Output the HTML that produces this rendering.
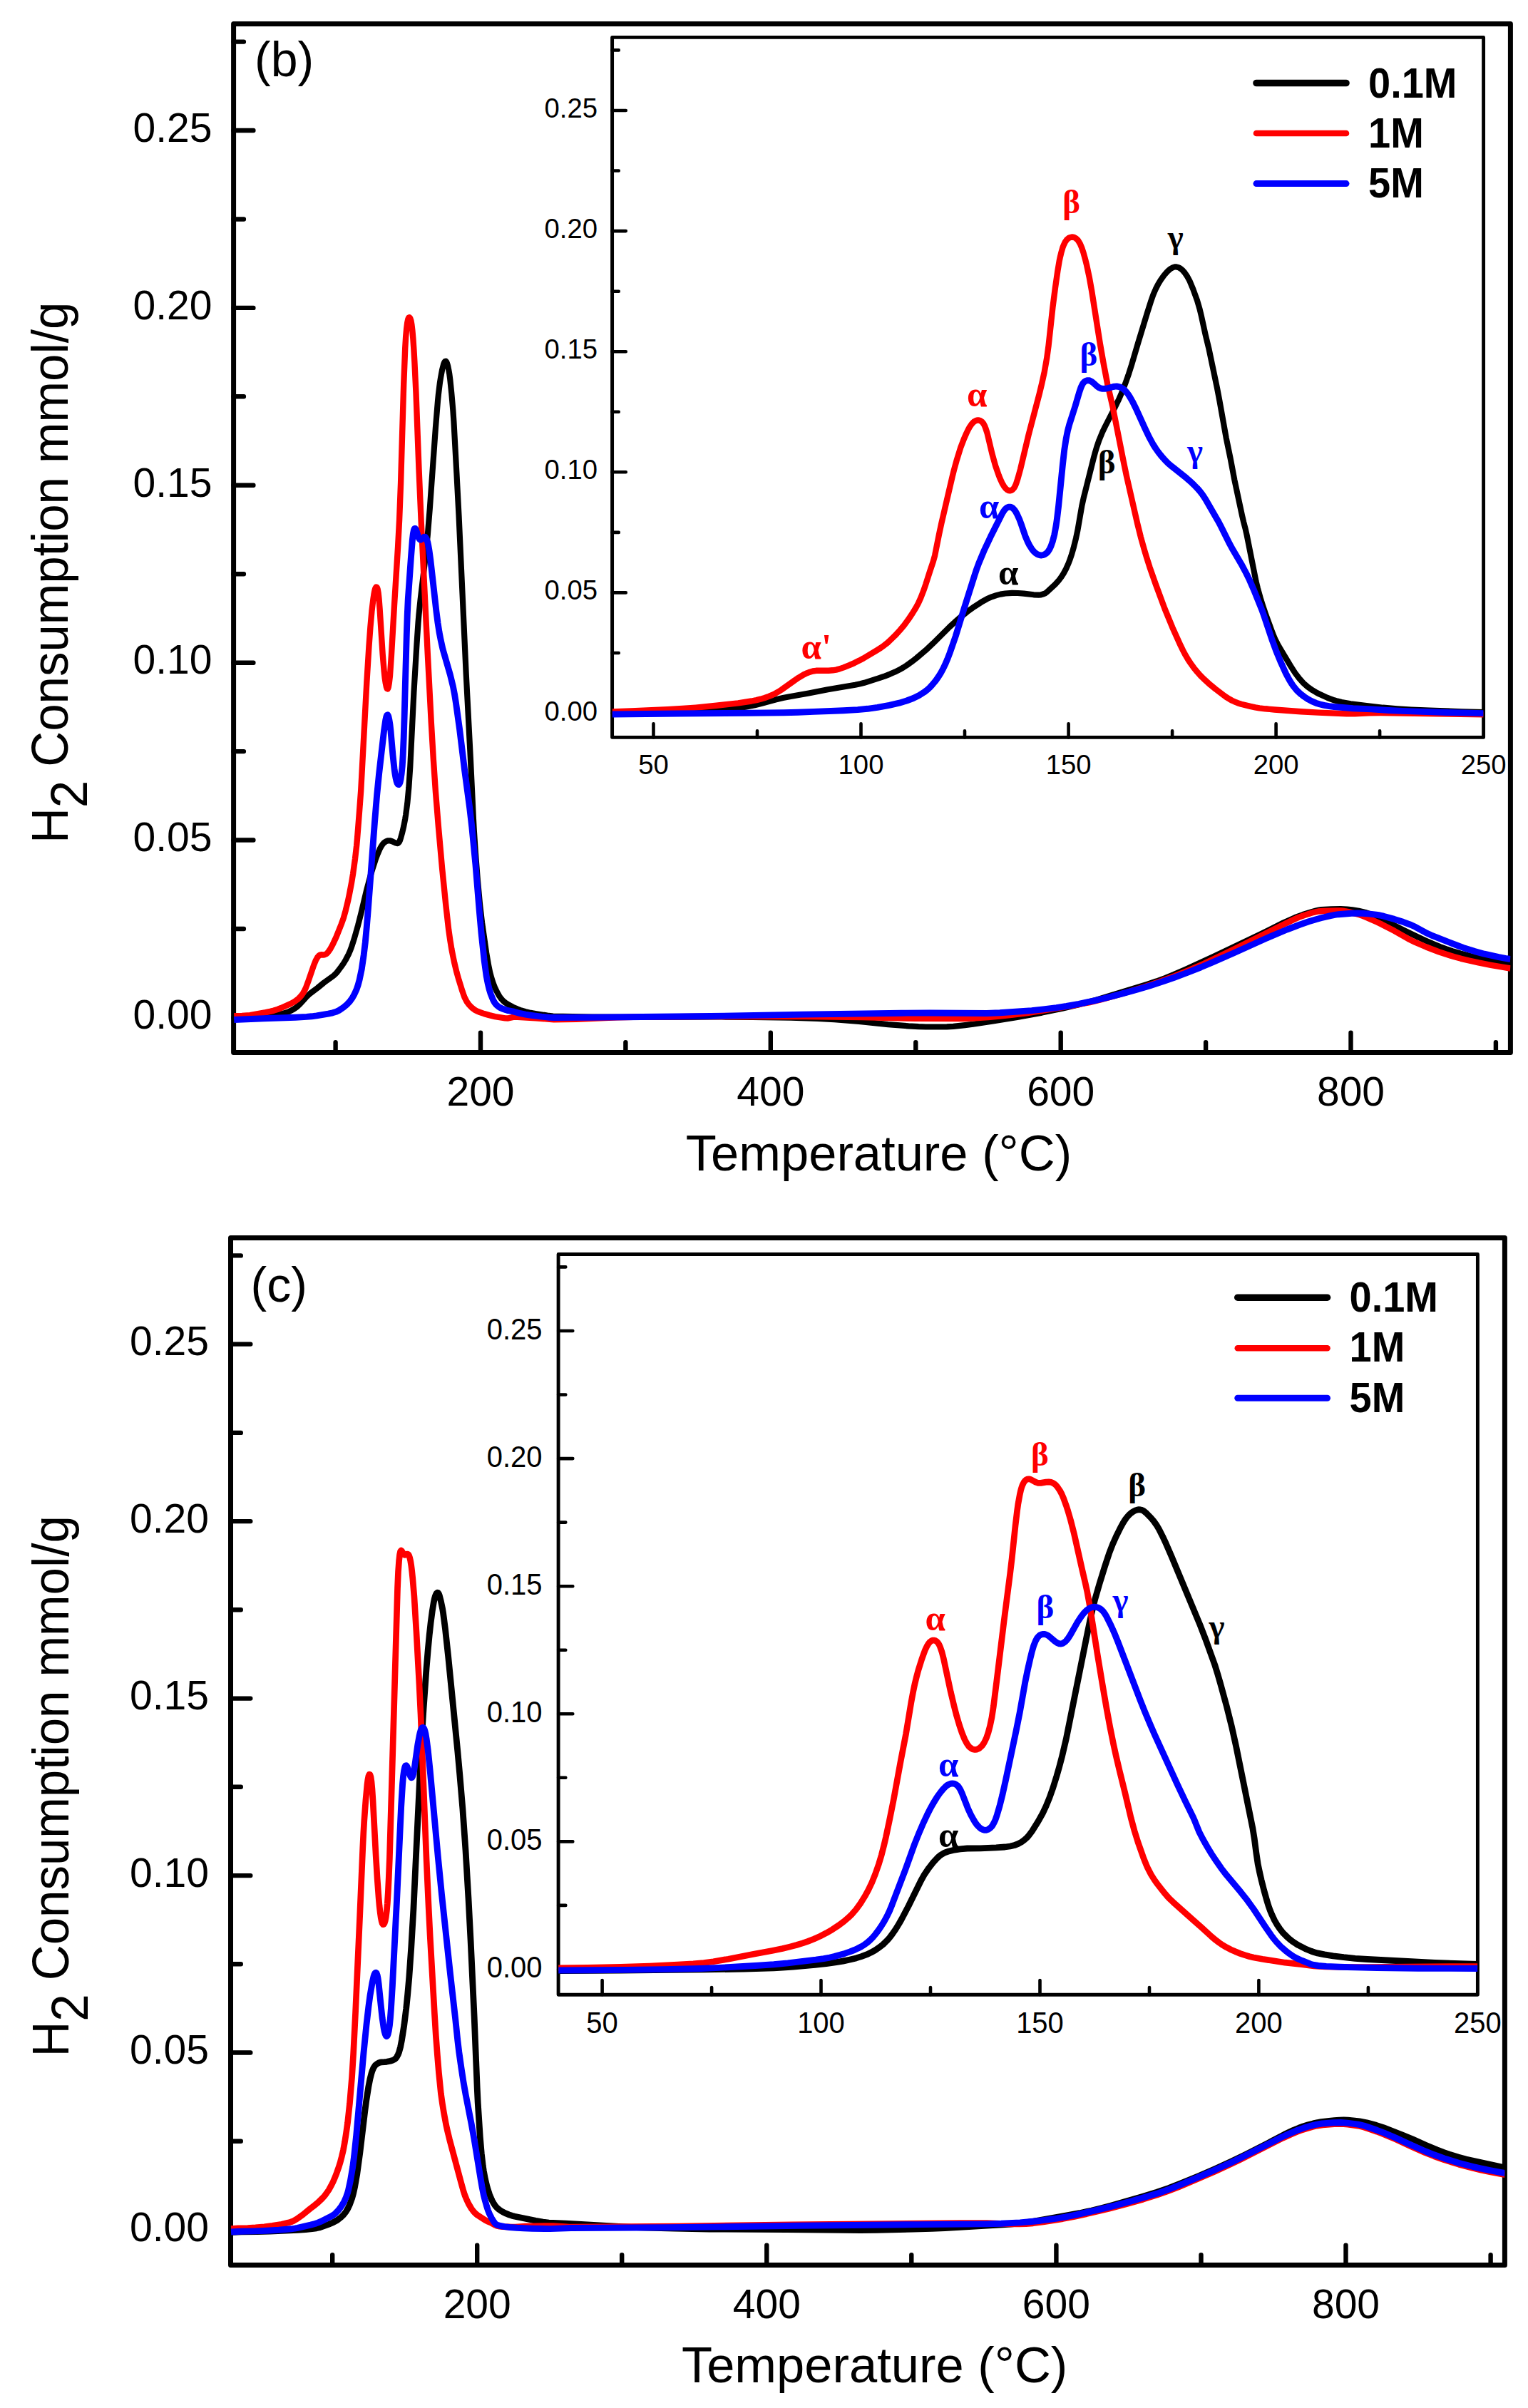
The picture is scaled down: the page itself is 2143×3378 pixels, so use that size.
<!DOCTYPE html>
<html><head><meta charset="utf-8"><title>H2-TPR profiles</title>
<style>html,body{margin:0;padding:0;background:#fff}svg{display:block}</style></head><body>
<svg width="2143" height="3378" viewBox="0 0 2143 3378" role="img" aria-label="H2-TPR profiles, panels (b) and (c)">
<rect width="2143" height="3378" fill="#fff"/>
<rect x="327.6" y="33.5" width="1790.8" height="1443.0" fill="#fff" stroke="#000" stroke-width="7.0" stroke-linejoin="round"/>
<path d="M674.0,1476.5V1448.7M1080.8,1476.5V1448.7M1487.7,1476.5V1448.7M1894.5,1476.5V1448.7M470.6,1476.5V1462.2M877.4,1476.5V1462.2M1284.3,1476.5V1462.2M1691.1,1476.5V1462.2M2097.9,1476.5V1462.2M327.6,1427.4H355.4M327.6,1178.5H355.4M327.6,929.7H355.4M327.6,680.8H355.4M327.6,431.9H355.4M327.6,183.0H355.4M327.6,1303.0H341.9M327.6,1054.1H341.9M327.6,805.2H341.9M327.6,556.3H341.9M327.6,307.5H341.9M327.6,58.6H341.9" fill="none" stroke="#000" stroke-width="6.4" stroke-linecap="round"/>
<clipPath id="clipbm"><rect x="327.6" y="33.5" width="1790.8" height="1443.0"/></clipPath>
<g clip-path="url(#clipbm)" fill="none" stroke-width="8.6" stroke-linejoin="round" stroke-linecap="butt">
<path d="M328.2,1428.0 L358.7,1426.6 L379.0,1424.7 L387.2,1423.6 L395.3,1422.1 L401.4,1420.5 L405.5,1419.0 L411.6,1415.9 L416.7,1412.4 L420.7,1408.6 L428.9,1399.4 L435.0,1393.6 L445.2,1386.0 L454.3,1378.5 L467.5,1369.0 L469.6,1367.2 L471.6,1365.2 L474.6,1361.4 L478.7,1355.9 L481.8,1351.5 L484.8,1346.5 L488.9,1338.7 L490.9,1334.0 L493.0,1328.6 L497.0,1316.0 L502.1,1298.1 L506.2,1282.0 L514.3,1248.0 L519.4,1229.0 L522.5,1218.7 L526.5,1206.4 L529.6,1198.1 L532.6,1191.1 L534.7,1187.3 L536.7,1184.3 L538.7,1182.1 L540.8,1180.6 L541.8,1180.1 L543.8,1179.4 L546.9,1179.3 L549.9,1180.2 L555.0,1182.6 L557.0,1183.1 L558.1,1182.9 L559.1,1182.2 L560.1,1180.8 L561.1,1178.5 L562.1,1175.4 L564.2,1167.9 L566.2,1159.3 L568.2,1148.9 L569.2,1142.6 L571.3,1126.8 L573.3,1105.2 L575.3,1075.5 L580.4,971.4 L584.5,903.2 L586.5,873.9 L587.5,861.8 L589.6,841.4 L596.7,781.4 L599.8,750.6 L602.8,713.5 L610.9,600.4 L614.0,562.5 L615.0,552.5 L617.0,536.3 L618.1,529.7 L620.1,518.8 L622.1,511.0 L623.1,508.4 L624.2,506.9 L625.2,506.6 L626.2,507.7 L627.2,510.1 L628.2,513.7 L629.2,518.5 L630.3,524.8 L631.3,532.5 L633.3,551.9 L635.4,576.3 L636.4,591.0 L640.4,663.7 L643.5,722.9 L653.7,945.2 L659.8,1062.4 L663.8,1146.2 L664.8,1164.9 L666.9,1196.3 L669.9,1234.3 L673.0,1268.1 L676.0,1293.8 L682.1,1336.4 L685.2,1354.4 L687.2,1364.0 L689.3,1371.8 L691.3,1378.2 L694.3,1385.9 L697.4,1392.2 L700.4,1397.5 L702.5,1400.5 L705.5,1403.9 L708.6,1406.5 L713.7,1409.7 L719.8,1412.9 L725.9,1415.6 L731.0,1417.5 L737.1,1419.3 L744.2,1420.9 L752.3,1422.3 L767.6,1424.6 L775.7,1425.5 L830.6,1426.5 L874.4,1426.9 L911.0,1427.0 L1011.7,1426.5 L1055.4,1426.9 L1109.3,1427.7 L1147.0,1428.9 L1170.3,1430.2 L1204.9,1432.9 L1245.6,1437.1 L1274.1,1439.4 L1288.3,1440.2 L1298.5,1440.5 L1328.0,1440.4 L1337.1,1439.8 L1353.4,1438.1 L1364.6,1436.7 L1391.1,1432.7 L1426.7,1426.9 L1461.2,1420.6 L1489.7,1414.7 L1514.1,1408.9 L1537.5,1402.7 L1553.8,1397.8 L1608.7,1380.9 L1621.9,1376.5 L1634.1,1372.1 L1646.3,1367.1 L1662.6,1359.9 L1702.3,1341.7 L1768.4,1310.2 L1780.6,1304.2 L1799.9,1294.4 L1816.2,1287.2 L1827.4,1283.0 L1839.6,1279.1 L1845.7,1277.4 L1849.8,1276.5 L1852.8,1276.1 L1867.1,1275.3 L1880.3,1275.0 L1889.4,1275.6 L1896.6,1276.4 L1905.7,1277.8 L1909.8,1278.7 L1914.9,1280.0 L1924.0,1283.1 L1933.2,1286.7 L1938.3,1289.2 L1951.5,1296.2 L1968.8,1305.0 L1988.1,1314.3 L1999.3,1319.4 L2010.5,1324.3 L2019.6,1328.0 L2027.8,1331.1 L2036.9,1334.1 L2048.1,1337.4 L2063.4,1341.5 L2073.5,1343.9 L2084.7,1346.1 L2097.9,1348.3 L2109.1,1350.0 L2118.3,1351.0" stroke="#000000" stroke-width="8.2"/>
<path d="M328.2,1425.3 L339.4,1425.0 L350.6,1424.1 L372.9,1420.2 L379.0,1418.9 L384.1,1417.6 L389.2,1416.0 L394.3,1414.0 L407.5,1408.1 L411.6,1405.9 L414.6,1403.9 L417.7,1401.7 L419.7,1399.8 L422.8,1396.4 L424.8,1393.6 L426.8,1390.2 L428.9,1385.9 L431.9,1377.8 L440.1,1354.0 L443.1,1346.7 L445.2,1343.0 L447.2,1340.6 L448.2,1339.9 L449.2,1339.5 L450.2,1339.3 L453.3,1339.5 L455.3,1339.3 L457.4,1338.3 L458.4,1337.6 L459.4,1336.6 L461.4,1333.9 L463.5,1330.8 L466.5,1325.3 L471.6,1314.4 L478.7,1296.5 L481.8,1287.8 L484.8,1277.1 L487.9,1264.3 L489.9,1254.8 L493.0,1238.6 L495.0,1226.3 L498.0,1204.8 L500.1,1186.5 L501.1,1175.5 L504.1,1137.3 L506.2,1109.0 L514.3,957.9 L517.4,907.5 L519.4,880.1 L521.4,857.6 L523.5,840.0 L524.5,833.3 L525.5,828.3 L526.5,825.0 L527.5,823.5 L528.6,823.8 L529.6,826.3 L530.6,831.7 L531.6,841.0 L532.6,854.3 L536.7,918.2 L538.7,941.8 L539.7,951.1 L540.8,958.3 L541.8,963.3 L542.8,966.1 L543.8,966.4 L544.8,963.9 L545.8,958.1 L546.9,948.5 L548.9,919.7 L553.0,849.0 L558.1,767.0 L560.1,729.1 L562.1,677.2 L566.2,539.2 L568.2,489.0 L569.2,471.8 L570.3,460.0 L571.3,452.3 L572.3,447.8 L573.3,445.6 L574.3,445.2 L575.3,446.5 L576.4,449.8 L577.4,455.5 L578.4,464.1 L579.4,475.7 L580.4,490.5 L581.4,508.1 L583.5,551.6 L587.5,658.0 L590.6,729.9 L599.8,917.3 L604.8,1013.7 L607.9,1065.9 L610.9,1110.3 L615.0,1160.9 L620.1,1218.2 L625.2,1268.7 L629.2,1304.2 L631.3,1318.8 L633.3,1331.1 L635.4,1341.8 L637.4,1351.3 L640.4,1363.7 L643.5,1374.6 L648.6,1390.9 L651.6,1399.3 L654.7,1405.2 L657.7,1409.4 L661.8,1413.6 L665.9,1416.8 L668.9,1418.4 L673.0,1420.0 L679.1,1422.1 L686.2,1424.1 L694.3,1426.1 L708.6,1428.4 L712.6,1428.5 L719.8,1426.9 L721.8,1426.7 L725.9,1426.8 L751.3,1428.3 L773.7,1430.1 L776.7,1430.2 L792.0,1430.1 L808.3,1429.7 L865.2,1427.4 L888.6,1426.7 L982.2,1426.0 L1129.7,1426.1 L1208.0,1427.1 L1284.3,1428.9 L1351.4,1429.0 L1363.6,1428.5 L1386.0,1427.0 L1402.2,1425.5 L1420.6,1423.5 L1440.9,1421.0 L1464.3,1417.4 L1505.0,1410.7 L1528.4,1406.1 L1543.6,1402.5 L1560.9,1397.8 L1586.3,1390.3 L1607.7,1383.4 L1629.1,1376.0 L1647.4,1369.1 L1667.7,1360.8 L1688.0,1352.0 L1705.3,1343.9 L1732.8,1330.6 L1797.9,1297.9 L1815.2,1289.6 L1821.3,1286.9 L1828.4,1284.2 L1841.6,1280.1 L1848.8,1278.5 L1854.9,1278.0 L1874.2,1277.5 L1880.3,1277.5 L1883.3,1277.7 L1887.4,1278.3 L1892.5,1279.4 L1906.7,1283.3 L1911.8,1285.1 L1917.9,1287.6 L1931.1,1293.5 L1938.3,1296.9 L1955.5,1305.8 L1974.9,1316.9 L1985.0,1321.9 L2000.3,1328.5 L2018.6,1335.5 L2027.8,1338.6 L2038.9,1342.0 L2049.1,1344.8 L2060.3,1347.5 L2073.5,1350.4 L2090.8,1353.8 L2107.1,1356.7 L2118.3,1358.5" stroke="#ff0000" stroke-width="8.4"/>
<path d="M328.2,1430.5 L369.9,1428.7 L414.6,1427.2 L429.9,1426.4 L437.0,1425.8 L444.1,1424.9 L460.4,1422.1 L466.5,1420.8 L471.6,1419.3 L475.7,1417.2 L481.8,1413.1 L486.9,1408.8 L490.9,1404.4 L494.0,1400.1 L497.0,1394.8 L500.1,1387.9 L502.1,1382.0 L504.1,1374.6 L507.2,1359.8 L510.2,1339.6 L512.3,1321.9 L514.3,1300.3 L516.3,1275.9 L525.5,1153.2 L528.6,1115.8 L531.6,1085.5 L534.7,1058.4 L538.7,1024.1 L540.8,1009.9 L541.8,1005.4 L542.8,1003.0 L543.8,1002.8 L544.8,1004.9 L545.8,1009.3 L546.9,1015.9 L547.9,1024.7 L550.9,1058.8 L553.0,1078.3 L554.0,1085.6 L555.0,1091.3 L556.0,1095.6 L557.0,1098.6 L558.1,1100.2 L559.1,1100.6 L560.1,1099.7 L561.1,1097.3 L562.1,1092.8 L563.1,1085.7 L564.2,1074.7 L565.2,1058.3 L566.2,1034.6 L567.2,1003.0 L570.3,890.0 L571.3,861.5 L572.3,840.3 L576.4,782.3 L578.4,757.1 L579.4,748.6 L580.4,743.6 L581.4,741.4 L582.5,741.5 L583.5,743.1 L586.5,752.7 L587.5,755.2 L588.6,756.7 L589.6,757.2 L590.6,756.9 L594.7,753.3 L595.7,753.1 L596.7,753.6 L597.7,754.9 L598.7,757.3 L599.8,760.8 L600.8,765.4 L601.8,771.2 L603.8,785.7 L612.0,858.2 L614.0,873.6 L616.0,886.6 L618.1,897.5 L621.1,911.1 L631.3,946.3 L635.4,963.0 L637.4,973.3 L639.4,985.8 L644.5,1022.4 L651.6,1080.4 L658.7,1133.4 L661.8,1160.0 L666.9,1212.4 L672.0,1274.6 L675.0,1308.7 L679.1,1346.8 L682.1,1368.9 L684.2,1379.6 L686.2,1387.9 L688.2,1394.4 L691.3,1402.1 L693.3,1405.8 L694.3,1407.4 L696.4,1409.9 L699.4,1412.4 L701.5,1413.6 L704.5,1415.0 L709.6,1416.8 L712.6,1417.7 L720.8,1419.2 L729.9,1421.7 L737.1,1423.1 L745.2,1424.3 L759.4,1426.1 L770.6,1427.2 L776.7,1427.5 L827.6,1427.2 L996.4,1425.5 L1126.6,1423.1 L1263.9,1421.2 L1304.6,1421.0 L1383.9,1421.5 L1402.2,1420.8 L1431.7,1418.8 L1447.0,1417.6 L1463.3,1415.9 L1481.6,1413.7 L1495.8,1411.5 L1513.1,1408.3 L1535.5,1403.6 L1552.8,1399.5 L1573.1,1394.1 L1594.5,1388.2 L1613.8,1382.4 L1631.1,1376.8 L1646.3,1371.5 L1664.7,1364.6 L1684.0,1357.0 L1701.3,1349.7 L1730.8,1336.7 L1775.5,1316.5 L1805.0,1304.0 L1823.3,1297.0 L1835.5,1292.8 L1845.7,1289.7 L1852.8,1287.8 L1866.0,1284.6 L1872.1,1283.4 L1877.2,1282.7 L1895.5,1281.2 L1903.7,1281.0 L1910.8,1281.2 L1918.9,1281.9 L1930.1,1283.2 L1935.2,1284.0 L1940.3,1285.2 L1955.5,1289.4 L1967.8,1293.3 L1978.9,1297.5 L1985.0,1300.3 L1999.3,1308.2 L2006.4,1311.6 L2016.6,1315.7 L2043.0,1326.0 L2052.2,1329.4 L2068.4,1334.6 L2081.7,1338.2 L2102.0,1342.7 L2111.2,1344.4 L2118.3,1345.5" stroke="#0000ff" stroke-width="8.9"/>
</g>
<text x="297.5" y="1443.1" font-size="57" text-anchor="end" font-weight="normal" fill="#000" font-family='"Liberation Sans", Arial, Helvetica, sans-serif' >0.00</text>
<text x="297.5" y="1194.2" font-size="57" text-anchor="end" font-weight="normal" fill="#000" font-family='"Liberation Sans", Arial, Helvetica, sans-serif' >0.05</text>
<text x="297.5" y="945.4" font-size="57" text-anchor="end" font-weight="normal" fill="#000" font-family='"Liberation Sans", Arial, Helvetica, sans-serif' >0.10</text>
<text x="297.5" y="696.5" font-size="57" text-anchor="end" font-weight="normal" fill="#000" font-family='"Liberation Sans", Arial, Helvetica, sans-serif' >0.15</text>
<text x="297.5" y="447.6" font-size="57" text-anchor="end" font-weight="normal" fill="#000" font-family='"Liberation Sans", Arial, Helvetica, sans-serif' >0.20</text>
<text x="297.5" y="198.7" font-size="57" text-anchor="end" font-weight="normal" fill="#000" font-family='"Liberation Sans", Arial, Helvetica, sans-serif' >0.25</text>
<text x="674.0" y="1551.2" font-size="57" text-anchor="middle" font-weight="normal" fill="#000" font-family='"Liberation Sans", Arial, Helvetica, sans-serif' >200</text>
<text x="1080.8" y="1551.2" font-size="57" text-anchor="middle" font-weight="normal" fill="#000" font-family='"Liberation Sans", Arial, Helvetica, sans-serif' >400</text>
<text x="1487.7" y="1551.2" font-size="57" text-anchor="middle" font-weight="normal" fill="#000" font-family='"Liberation Sans", Arial, Helvetica, sans-serif' >600</text>
<text x="1894.5" y="1551.2" font-size="57" text-anchor="middle" font-weight="normal" fill="#000" font-family='"Liberation Sans", Arial, Helvetica, sans-serif' >800</text>
<text x="1232.5" y="1641.8" font-size="70.5" text-anchor="middle" font-weight="normal" fill="#000" font-family='"Liberation Sans", Arial, Helvetica, sans-serif' >Temperature (°C)</text>
<text transform="translate(95.0,803.4) rotate(-90) scale(0.952,1)" font-size="72.5" text-anchor="middle" font-family='"Liberation Sans", Arial, Helvetica, sans-serif' fill="#000">H<tspan dy="27">2</tspan><tspan dy="-27"> Consumption mmol/g</tspan></text>
<text x="357.0" y="107.4" font-size="68" text-anchor="start" font-weight="normal" fill="#000" font-family='"Liberation Sans", Arial, Helvetica, sans-serif' >(b)</text>
<rect x="858.6" y="52.4" width="1222.0" height="982.0" fill="#fff" stroke="#000" stroke-width="4.9" stroke-linejoin="round"/>
<path d="M916.5,1034.4V1015.2M1207.5,1034.4V1015.2M1498.6,1034.4V1015.2M1789.6,1034.4V1015.2M1062.0,1034.4V1025.2M1353.0,1034.4V1025.2M1644.1,1034.4V1025.2M1935.1,1034.4V1025.2M858.6,1000.5H877.8M858.6,831.4H877.8M858.6,662.3H877.8M858.6,493.2H877.8M858.6,324.1H877.8M858.6,155.0H877.8M858.6,916.0H867.8M858.6,746.9H867.8M858.6,577.8H867.8M858.6,408.7H867.8M858.6,239.5H867.8M858.6,70.4H867.8" fill="none" stroke="#000" stroke-width="4.6" stroke-linecap="round"/>
<clipPath id="clipbi"><rect x="858.6" y="52.4" width="1222.0" height="982.0"/></clipPath>
<g clip-path="url(#clipbi)" fill="none" stroke-width="8.6" stroke-linejoin="round" stroke-linecap="butt">
<path d="M858.3,1000.2 L909.5,999.5 L966.6,998.0 L987.5,997.1 L1006.1,996.1 L1017.8,995.2 L1029.4,993.9 L1045.7,991.7 L1058.5,989.3 L1065.5,987.6 L1087.6,981.6 L1098.1,979.1 L1107.4,977.2 L1134.2,972.5 L1161.0,967.2 L1199.4,960.7 L1206.4,959.3 L1212.2,957.8 L1233.1,951.2 L1241.3,948.3 L1248.3,945.6 L1255.3,942.6 L1261.1,939.7 L1266.9,936.4 L1271.6,933.4 L1278.5,928.4 L1285.5,923.0 L1298.3,912.2 L1308.8,902.3 L1332.1,879.1 L1339.1,872.7 L1347.2,865.7 L1356.5,858.2 L1367.0,850.7 L1376.3,844.7 L1384.5,840.1 L1391.5,837.1 L1397.3,835.1 L1403.1,833.6 L1410.1,832.5 L1419.4,831.9 L1427.5,832.0 L1435.7,832.6 L1449.7,834.3 L1456.6,834.6 L1460.1,834.3 L1463.6,833.3 L1466.0,832.2 L1468.3,830.5 L1479.9,819.8 L1484.6,814.6 L1488.1,809.9 L1491.6,804.5 L1495.1,798.0 L1498.6,790.1 L1500.9,784.0 L1503.2,777.1 L1505.5,769.2 L1509.0,755.2 L1511.4,743.9 L1517.2,710.2 L1519.5,699.6 L1533.5,643.8 L1535.8,635.1 L1538.1,627.4 L1541.6,617.2 L1546.3,605.8 L1549.8,598.5 L1563.7,571.4 L1568.4,561.8 L1573.1,551.2 L1578.9,536.2 L1582.4,526.4 L1587.0,512.0 L1596.3,480.5 L1609.1,438.5 L1613.8,423.7 L1617.3,413.7 L1620.8,405.5 L1624.3,398.7 L1627.8,392.9 L1632.4,386.4 L1637.1,381.0 L1639.4,378.9 L1641.7,377.0 L1645.2,375.1 L1647.6,374.4 L1648.7,374.3 L1649.9,374.4 L1652.2,374.9 L1654.5,376.0 L1656.9,377.6 L1659.2,379.8 L1661.5,382.5 L1665.0,387.6 L1668.5,394.2 L1673.2,405.3 L1679.0,421.4 L1682.5,433.4 L1684.8,442.9 L1690.6,469.3 L1695.3,488.7 L1706.9,543.9 L1710.4,562.2 L1719.7,614.3 L1725.6,642.9 L1731.4,673.5 L1741.9,722.7 L1744.2,732.5 L1746.5,741.2 L1748.8,751.4 L1761.6,815.7 L1764.0,825.5 L1767.5,838.2 L1771.0,849.4 L1774.4,859.6 L1783.8,885.4 L1786.1,891.4 L1788.4,896.8 L1791.9,903.7 L1796.6,911.8 L1809.4,933.2 L1816.4,944.1 L1822.2,951.8 L1828.0,958.2 L1833.8,963.4 L1840.8,968.3 L1845.5,971.1 L1850.1,973.5 L1861.8,978.9 L1871.1,982.3 L1875.7,983.6 L1881.5,985.0 L1894.3,987.2 L1916.5,990.1 L1939.7,992.7 L1959.5,994.3 L1979.3,995.5 L2004.9,996.7 L2050.3,998.3 L2080.6,999.2" stroke="#000000" stroke-width="8.2"/>
<path d="M858.3,998.4 L890.9,997.2 L936.3,995.2 L957.2,994.0 L975.9,992.6 L1005.0,989.8 L1035.2,986.4 L1053.9,983.5 L1060.9,982.1 L1066.7,980.7 L1072.5,979.0 L1078.3,976.9 L1083.0,975.0 L1087.6,972.7 L1091.1,970.7 L1095.8,967.7 L1114.4,954.5 L1120.2,950.6 L1127.2,946.4 L1130.7,944.7 L1134.2,943.3 L1140.0,941.5 L1144.7,940.8 L1148.2,940.6 L1162.1,940.8 L1168.0,940.3 L1172.6,939.6 L1177.3,938.4 L1183.1,936.4 L1191.2,933.2 L1198.2,930.1 L1205.2,926.6 L1211.0,923.5 L1229.6,912.3 L1235.5,908.6 L1240.1,905.3 L1244.8,901.6 L1249.4,897.3 L1255.3,891.6 L1262.2,884.0 L1268.1,877.0 L1273.9,869.1 L1279.7,860.4 L1284.4,852.7 L1287.9,846.3 L1291.3,838.7 L1294.8,829.8 L1298.3,819.8 L1304.2,801.4 L1308.8,787.6 L1311.1,779.3 L1317.0,749.7 L1320.4,733.8 L1335.6,668.8 L1337.9,659.5 L1341.4,646.8 L1347.2,628.1 L1351.9,615.7 L1355.4,607.8 L1357.7,603.0 L1360.0,598.8 L1362.4,595.4 L1363.5,594.0 L1365.8,591.7 L1368.2,590.3 L1370.5,589.5 L1372.8,589.5 L1375.2,590.3 L1377.5,592.0 L1378.7,593.4 L1379.8,595.1 L1381.0,597.4 L1382.1,600.2 L1384.5,607.4 L1391.5,636.9 L1396.1,653.3 L1400.8,666.9 L1403.1,672.6 L1405.4,677.6 L1407.8,681.7 L1410.1,684.9 L1412.4,687.0 L1414.7,688.1 L1415.9,688.3 L1417.1,688.2 L1418.2,687.9 L1419.4,687.3 L1420.6,686.4 L1421.7,685.1 L1422.9,683.3 L1424.1,681.0 L1425.2,678.2 L1427.5,671.1 L1431.0,658.5 L1442.7,609.6 L1457.8,552.1 L1461.3,537.6 L1464.8,521.6 L1468.3,501.7 L1470.6,484.6 L1476.4,431.2 L1479.9,404.1 L1483.4,379.9 L1485.7,366.1 L1486.9,360.4 L1488.1,355.4 L1490.4,347.3 L1491.6,344.2 L1493.9,339.4 L1496.2,336.2 L1498.6,334.1 L1500.9,333.0 L1503.2,332.5 L1505.5,332.7 L1506.7,333.1 L1509.0,334.4 L1511.4,336.6 L1512.5,338.1 L1514.9,342.2 L1517.2,347.6 L1519.5,354.5 L1521.8,362.8 L1524.2,372.3 L1527.7,388.8 L1531.1,407.8 L1542.8,482.0 L1547.4,508.3 L1553.3,539.1 L1560.3,569.5 L1575.4,645.7 L1580.0,668.0 L1595.2,734.5 L1599.8,753.1 L1604.5,769.9 L1608.0,781.6 L1612.6,796.1 L1620.8,819.5 L1633.6,854.1 L1644.1,879.7 L1655.7,905.4 L1659.2,912.6 L1662.7,919.2 L1666.2,925.1 L1669.7,930.4 L1674.3,936.8 L1679.0,942.5 L1683.6,947.7 L1688.3,952.4 L1697.6,960.8 L1704.6,966.5 L1715.1,974.5 L1719.7,977.9 L1724.4,980.8 L1727.9,982.7 L1731.4,984.3 L1736.0,986.2 L1740.7,987.7 L1753.5,990.9 L1760.5,992.3 L1766.3,993.3 L1774.4,994.3 L1787.3,995.5 L1824.5,998.3 L1848.9,999.6 L1888.5,1001.2 L1900.2,1001.3 L1920.0,1000.2 L1936.3,1000.1 L2014.3,1001.2 L2080.6,1002.4" stroke="#ff0000" stroke-width="8.4"/>
<path d="M858.3,1002.0 L953.8,1001.0 L1051.5,1000.3 L1099.3,999.7 L1119.1,999.2 L1141.2,998.4 L1183.1,996.7 L1202.9,995.6 L1216.8,994.3 L1230.8,992.3 L1247.1,989.3 L1261.1,986.2 L1271.6,983.0 L1280.9,979.5 L1289.0,975.5 L1296.0,971.1 L1300.7,967.5 L1304.2,964.3 L1307.6,960.5 L1312.3,954.8 L1315.8,949.9 L1319.3,944.3 L1322.8,937.9 L1326.3,930.5 L1328.6,925.1 L1332.1,916.0 L1340.2,892.6 L1351.9,854.4 L1367.0,806.7 L1369.3,799.6 L1372.8,790.0 L1379.8,773.2 L1389.1,753.3 L1404.3,722.9 L1406.6,718.7 L1408.9,715.3 L1410.1,713.9 L1412.4,712.1 L1414.7,711.2 L1417.1,711.2 L1419.4,712.2 L1420.6,713.0 L1422.9,715.5 L1424.1,717.1 L1426.4,721.2 L1429.9,729.0 L1432.2,735.2 L1438.0,752.2 L1441.5,760.4 L1443.8,764.9 L1447.3,770.5 L1449.7,773.4 L1452.0,775.6 L1454.3,777.2 L1456.6,778.3 L1459.0,778.9 L1460.1,779.0 L1462.5,778.7 L1464.8,777.9 L1467.1,776.5 L1469.5,774.2 L1471.8,770.8 L1474.1,765.9 L1476.4,759.2 L1478.8,750.0 L1481.1,737.3 L1482.3,729.2 L1484.6,709.9 L1490.4,652.0 L1492.7,631.5 L1495.1,615.9 L1497.4,604.4 L1499.7,595.7 L1507.9,570.0 L1513.7,550.3 L1516.0,543.5 L1518.3,538.6 L1519.5,537.0 L1520.7,535.7 L1523.0,534.2 L1525.3,533.6 L1527.7,533.8 L1528.8,534.2 L1531.1,535.4 L1533.5,537.2 L1539.3,542.5 L1541.6,543.9 L1544.0,544.9 L1546.3,545.4 L1549.8,545.3 L1553.3,544.7 L1561.4,542.5 L1563.7,542.1 L1566.1,542.0 L1569.6,542.6 L1571.9,543.5 L1575.4,545.6 L1577.7,547.6 L1580.0,550.2 L1582.4,553.4 L1584.7,557.0 L1588.2,563.1 L1594.0,574.8 L1605.7,600.6 L1611.5,612.8 L1617.3,623.5 L1620.8,629.0 L1624.3,634.0 L1627.8,638.5 L1631.3,642.6 L1634.8,646.4 L1638.2,649.8 L1644.1,654.8 L1663.9,670.6 L1669.7,675.6 L1674.3,680.0 L1679.0,684.8 L1682.5,688.8 L1686.0,693.3 L1688.3,696.6 L1691.8,702.2 L1708.1,730.4 L1711.6,737.0 L1724.4,762.7 L1729.0,771.1 L1741.9,793.1 L1747.7,804.0 L1752.3,813.4 L1758.1,826.7 L1769.8,855.6 L1773.3,865.5 L1783.8,896.9 L1789.6,912.7 L1796.6,929.7 L1803.5,944.9 L1808.2,953.6 L1811.7,959.3 L1814.0,962.7 L1818.7,968.3 L1821.0,970.7 L1824.5,973.8 L1829.2,977.4 L1835.0,981.2 L1839.6,983.7 L1845.5,986.2 L1851.3,988.0 L1857.1,989.4 L1864.1,990.6 L1871.1,991.5 L1897.8,993.8 L1923.5,994.9 L1947.9,996.5 L1966.5,997.4 L2029.4,999.5 L2080.6,1000.6" stroke="#0000ff" stroke-width="8.9"/>
</g>
<text x="838.0" y="1010.5" font-size="38.3" text-anchor="end" font-weight="normal" fill="#000" font-family='"Liberation Sans", Arial, Helvetica, sans-serif' >0.00</text>
<text x="838.0" y="841.4" font-size="38.3" text-anchor="end" font-weight="normal" fill="#000" font-family='"Liberation Sans", Arial, Helvetica, sans-serif' >0.05</text>
<text x="838.0" y="672.3" font-size="38.3" text-anchor="end" font-weight="normal" fill="#000" font-family='"Liberation Sans", Arial, Helvetica, sans-serif' >0.10</text>
<text x="838.0" y="503.2" font-size="38.3" text-anchor="end" font-weight="normal" fill="#000" font-family='"Liberation Sans", Arial, Helvetica, sans-serif' >0.15</text>
<text x="838.0" y="334.1" font-size="38.3" text-anchor="end" font-weight="normal" fill="#000" font-family='"Liberation Sans", Arial, Helvetica, sans-serif' >0.20</text>
<text x="838.0" y="165.0" font-size="38.3" text-anchor="end" font-weight="normal" fill="#000" font-family='"Liberation Sans", Arial, Helvetica, sans-serif' >0.25</text>
<text x="916.5" y="1085.6" font-size="38.3" text-anchor="middle" font-weight="normal" fill="#000" font-family='"Liberation Sans", Arial, Helvetica, sans-serif' >50</text>
<text x="1207.5" y="1085.6" font-size="38.3" text-anchor="middle" font-weight="normal" fill="#000" font-family='"Liberation Sans", Arial, Helvetica, sans-serif' >100</text>
<text x="1498.6" y="1085.6" font-size="38.3" text-anchor="middle" font-weight="normal" fill="#000" font-family='"Liberation Sans", Arial, Helvetica, sans-serif' >150</text>
<text x="1789.6" y="1085.6" font-size="38.3" text-anchor="middle" font-weight="normal" fill="#000" font-family='"Liberation Sans", Arial, Helvetica, sans-serif' >200</text>
<text x="2080.6" y="1085.6" font-size="38.3" text-anchor="middle" font-weight="normal" fill="#000" font-family='"Liberation Sans", Arial, Helvetica, sans-serif' >250</text>
<path d="M1762.0,116.5H1888.0" stroke="#000000" stroke-width="9.6" stroke-linecap="round"/>
<text transform="translate(1919.0,137.2) scale(0.9570,1)" font-size="58.5" text-anchor="start" font-weight="bold" fill="#000" font-family='"Liberation Sans", Arial, Helvetica, sans-serif' >0.1M</text>
<path d="M1762.0,187.0H1888.0" stroke="#ff0000" stroke-width="8.6" stroke-linecap="round"/>
<text transform="translate(1919.0,207.3) scale(0.9570,1)" font-size="58.5" text-anchor="start" font-weight="bold" fill="#000" font-family='"Liberation Sans", Arial, Helvetica, sans-serif' >1M</text>
<path d="M1762.0,257.6H1888.0" stroke="#0000ff" stroke-width="9.0" stroke-linecap="round"/>
<text transform="translate(1919.0,277.4) scale(0.9570,1)" font-size="58.5" text-anchor="start" font-weight="bold" fill="#000" font-family='"Liberation Sans", Arial, Helvetica, sans-serif' >5M</text>
<text x="1123.5" y="923.5" font-size="51" text-anchor="start" font-weight="bold" fill="#ff0000" font-family='"Liberation Serif", "Times New Roman", Times, serif' >α'</text>
<text x="1356.0" y="569.7" font-size="51" text-anchor="start" font-weight="bold" fill="#ff0000" font-family='"Liberation Serif", "Times New Roman", Times, serif' >α</text>
<text x="1490.2" y="299.1" font-size="47" text-anchor="start" font-weight="bold" fill="#ff0000" font-family='"Liberation Serif", "Times New Roman", Times, serif' >β</text>
<text x="1373.0" y="727.2" font-size="51" text-anchor="start" font-weight="bold" fill="#0000ff" font-family='"Liberation Serif", "Times New Roman", Times, serif' >α</text>
<text x="1514.4" y="512.9" font-size="47" text-anchor="start" font-weight="bold" fill="#0000ff" font-family='"Liberation Serif", "Times New Roman", Times, serif' >β</text>
<text x="1665.0" y="647.9" font-size="47" text-anchor="start" font-weight="bold" fill="#0000ff" font-family='"Liberation Serif", "Times New Roman", Times, serif' >γ</text>
<text x="1400.0" y="819.7" font-size="51" text-anchor="start" font-weight="bold" fill="#000000" font-family='"Liberation Serif", "Times New Roman", Times, serif' >α</text>
<text x="1539.7" y="664.1" font-size="47" text-anchor="start" font-weight="bold" fill="#000000" font-family='"Liberation Serif", "Times New Roman", Times, serif' >β</text>
<text x="1637.7" y="347.9" font-size="47" text-anchor="start" font-weight="bold" fill="#000000" font-family='"Liberation Serif", "Times New Roman", Times, serif' >γ</text>
<rect x="323.5" y="1736.5" width="1786.9" height="1440.9" fill="#fff" stroke="#000" stroke-width="7.0" stroke-linejoin="round"/>
<path d="M669.2,3177.4V3149.6M1075.3,3177.4V3149.6M1481.4,3177.4V3149.6M1887.5,3177.4V3149.6M466.2,3177.4V3163.1M872.2,3177.4V3163.1M1278.3,3177.4V3163.1M1684.5,3177.4V3163.1M2090.6,3177.4V3163.1M323.5,3128.0H351.3M323.5,2879.5H351.3M323.5,2631.1H351.3M323.5,2382.6H351.3M323.5,2134.1H351.3M323.5,1885.6H351.3M323.5,3003.8H337.8M323.5,2755.3H337.8M323.5,2506.8H337.8M323.5,2258.3H337.8M323.5,2009.9H337.8M323.5,1761.4H337.8" fill="none" stroke="#000" stroke-width="6.4" stroke-linecap="round"/>
<clipPath id="clipcm"><rect x="323.5" y="1736.5" width="1786.9" height="1440.9"/></clipPath>
<g clip-path="url(#clipcm)" fill="none" stroke-width="8.6" stroke-linejoin="round" stroke-linecap="butt">
<path d="M324.0,3131.7 L338.2,3130.9 L360.6,3130.6 L378.8,3130.1 L417.4,3128.3 L428.6,3127.6 L437.7,3126.6 L443.8,3125.8 L448.9,3124.7 L460.1,3120.7 L467.2,3117.7 L473.3,3114.3 L478.3,3110.4 L481.4,3107.4 L483.4,3105.0 L485.4,3102.3 L487.5,3098.9 L490.5,3092.6 L493.6,3084.1 L495.6,3076.8 L497.6,3067.8 L500.7,3050.3 L504.7,3020.9 L511.8,2961.4 L513.9,2945.7 L516.9,2926.8 L518.9,2916.6 L521.0,2908.4 L522.0,2905.2 L524.0,2900.6 L526.0,2897.6 L527.1,2896.6 L529.1,2895.0 L531.1,2893.9 L533.2,2893.1 L535.2,2892.8 L539.2,2892.6 L542.3,2892.3 L547.4,2891.3 L550.4,2890.4 L553.5,2888.9 L555.5,2887.0 L556.5,2885.6 L558.5,2881.7 L559.6,2878.9 L561.6,2871.6 L563.6,2861.3 L566.7,2841.5 L569.7,2817.5 L571.7,2797.7 L573.8,2774.0 L576.8,2731.1 L579.9,2678.6 L589.0,2488.2 L592.0,2428.8 L594.1,2395.9 L598.1,2339.8 L600.2,2314.9 L602.2,2293.7 L604.2,2275.6 L606.3,2259.9 L608.3,2247.6 L609.3,2243.0 L610.3,2239.4 L611.3,2236.8 L612.3,2235.0 L613.4,2234.2 L614.4,2234.4 L615.4,2235.9 L616.4,2238.6 L618.4,2246.4 L620.5,2256.4 L621.5,2262.4 L624.5,2285.4 L628.6,2323.3 L641.8,2456.5 L644.8,2489.5 L648.9,2537.7 L653.0,2595.6 L657.0,2663.2 L660.1,2722.4 L665.1,2828.4 L669.2,2928.9 L670.2,2949.9 L673.3,2997.7 L675.3,3021.2 L677.3,3038.4 L678.3,3045.2 L680.4,3056.5 L683.4,3069.0 L686.5,3078.4 L688.5,3083.3 L690.5,3087.6 L692.6,3091.3 L694.6,3094.4 L696.6,3096.7 L699.7,3099.4 L702.7,3101.5 L705.7,3103.3 L709.8,3105.2 L713.9,3106.8 L717.9,3108.2 L722.0,3109.2 L751.4,3115.3 L761.6,3117.0 L769.7,3118.1 L793.1,3119.2 L885.4,3124.4 L906.8,3125.2 L946.4,3126.2 L995.1,3127.0 L1103.7,3127.5 L1181.9,3128.4 L1206.3,3128.5 L1229.6,3128.3 L1280.4,3127.1 L1306.8,3126.3 L1325.1,3125.5 L1401.2,3121.2 L1417.4,3120.0 L1431.7,3118.7 L1439.8,3117.7 L1449.9,3116.2 L1493.6,3108.4 L1513.9,3104.7 L1531.1,3101.0 L1543.3,3098.0 L1558.6,3093.9 L1602.2,3081.4 L1622.5,3075.1 L1638.8,3069.6 L1656.0,3062.9 L1682.4,3052.1 L1703.7,3042.7 L1727.1,3031.9 L1745.4,3023.1 L1778.9,3006.1 L1801.2,2994.3 L1813.4,2988.6 L1821.5,2985.2 L1827.6,2983.0 L1834.7,2980.8 L1841.8,2978.9 L1847.9,2977.5 L1853.0,2976.6 L1864.1,2975.3 L1871.3,2974.6 L1878.4,2974.1 L1884.5,2974.0 L1890.5,2974.2 L1897.7,2974.8 L1906.8,2975.9 L1916.9,2977.8 L1930.1,2981.3 L1940.3,2984.7 L1965.7,2994.5 L1980.9,3000.8 L2000.2,3009.4 L2015.4,3015.8 L2024.6,3019.4 L2032.7,3022.2 L2044.9,3026.0 L2056.0,3029.0 L2110.9,3041.1" stroke="#000000" stroke-width="8.8"/>
<path d="M324.0,3126.6 L334.2,3125.9 L347.4,3125.5 L358.5,3124.9 L370.7,3123.8 L381.9,3122.4 L395.1,3120.2 L404.2,3118.1 L408.3,3116.9 L411.3,3115.7 L416.4,3112.8 L424.5,3107.0 L434.7,3098.6 L441.8,3093.2 L445.8,3089.9 L451.9,3084.0 L455.0,3080.6 L458.0,3076.6 L461.1,3072.1 L464.1,3066.7 L467.2,3060.6 L469.2,3056.0 L472.2,3048.3 L475.3,3039.5 L477.3,3032.9 L479.3,3025.3 L481.4,3016.4 L483.4,3005.6 L485.4,2993.0 L487.5,2978.2 L490.5,2950.5 L493.6,2913.6 L495.6,2881.4 L498.6,2822.4 L504.7,2687.0 L508.8,2591.3 L509.8,2571.2 L510.8,2553.9 L512.9,2525.5 L514.9,2503.8 L515.9,2496.3 L516.9,2491.5 L517.9,2489.2 L518.9,2489.5 L520.0,2492.7 L521.0,2499.5 L522.0,2510.5 L523.0,2525.7 L527.1,2601.9 L529.1,2634.9 L531.1,2662.3 L532.1,2673.6 L533.2,2682.9 L534.2,2690.1 L535.2,2695.2 L536.2,2698.3 L537.2,2699.7 L538.2,2699.5 L539.2,2697.8 L540.3,2694.4 L541.3,2689.1 L542.3,2681.3 L543.3,2670.3 L544.3,2654.8 L545.3,2633.7 L546.4,2606.7 L557.5,2228.5 L558.5,2205.1 L559.6,2189.6 L560.6,2180.7 L561.6,2176.3 L562.6,2175.1 L563.6,2175.8 L565.6,2179.4 L566.7,2180.8 L567.7,2181.3 L568.7,2181.2 L570.7,2180.1 L571.7,2180.0 L572.8,2180.8 L573.8,2182.5 L574.8,2185.6 L575.8,2190.2 L576.8,2196.5 L577.8,2204.6 L578.8,2214.5 L580.9,2239.7 L583.9,2288.1 L588.0,2363.1 L590.0,2404.2 L598.1,2609.1 L601.2,2676.9 L603.2,2716.4 L609.3,2822.9 L611.3,2855.3 L613.4,2882.9 L615.4,2907.2 L618.4,2936.9 L620.5,2951.6 L622.5,2963.8 L625.5,2980.0 L627.6,2989.5 L630.6,3001.8 L646.9,3062.7 L649.9,3073.4 L651.9,3079.5 L654.0,3084.7 L657.0,3091.2 L661.1,3098.2 L664.1,3102.3 L666.2,3104.5 L669.2,3107.1 L680.4,3114.4 L683.4,3116.0 L689.5,3118.6 L694.6,3121.5 L697.6,3122.6 L700.7,3123.2 L704.7,3123.6 L717.9,3124.2 L723.0,3124.1 L737.2,3123.1 L765.6,3122.5 L775.8,3122.6 L792.0,3123.7 L798.1,3124.0 L844.8,3123.9 L952.5,3123.0 L1110.8,3120.9 L1347.4,3118.6 L1383.9,3118.5 L1417.4,3119.8 L1429.6,3120.0 L1438.8,3119.7 L1448.9,3118.8 L1463.1,3116.9 L1490.5,3112.6 L1506.8,3109.4 L1533.2,3103.6 L1555.5,3098.2 L1579.9,3091.8 L1603.2,3085.2 L1622.5,3079.2 L1636.7,3074.2 L1653.0,3067.9 L1683.4,3055.1 L1704.8,3045.7 L1723.0,3037.3 L1739.3,3029.5 L1799.2,2999.2 L1810.3,2994.2 L1818.5,2990.8 L1824.6,2988.5 L1829.6,2986.8 L1839.8,2983.8 L1846.9,2982.1 L1855.0,2980.9 L1871.3,2979.7 L1881.4,2979.5 L1890.5,2980.2 L1904.8,2982.1 L1908.8,2983.0 L1912.9,2984.0 L1919.0,2986.0 L1931.2,2990.3 L1941.3,2994.2 L1957.6,3001.1 L1977.9,3010.5 L1999.2,3020.0 L2011.4,3024.8 L2025.6,3029.9 L2045.9,3036.2 L2065.2,3041.3 L2076.3,3043.9 L2089.5,3046.7 L2102.7,3049.2 L2110.9,3050.6" stroke="#ff0000" stroke-width="8.7"/>
<path d="M324.0,3131.0 L337.2,3130.2 L357.5,3129.9 L373.8,3129.3 L391.0,3128.3 L408.3,3126.8 L413.4,3126.2 L417.4,3125.4 L435.7,3121.1 L441.8,3119.5 L445.8,3118.1 L449.9,3116.4 L462.1,3110.3 L467.2,3107.5 L470.2,3105.1 L474.3,3100.9 L477.3,3097.1 L479.3,3094.1 L482.4,3089.0 L485.4,3082.3 L487.5,3076.2 L488.5,3072.6 L491.5,3058.7 L494.6,3040.5 L496.6,3025.4 L499.7,2995.8 L509.8,2881.7 L513.9,2840.9 L516.9,2814.9 L518.9,2800.0 L522.0,2781.7 L524.0,2772.7 L525.0,2769.7 L526.0,2767.8 L527.1,2767.2 L528.1,2768.0 L529.1,2770.7 L530.1,2775.6 L531.1,2783.0 L534.2,2813.3 L536.2,2831.4 L538.2,2845.1 L539.2,2850.0 L540.3,2853.6 L541.3,2855.8 L542.3,2856.5 L543.3,2855.7 L544.3,2853.1 L545.3,2848.5 L546.4,2841.3 L547.4,2831.2 L548.4,2818.2 L550.4,2785.4 L556.5,2666.5 L562.6,2534.7 L564.6,2502.5 L565.6,2491.3 L566.7,2483.6 L567.7,2479.1 L568.7,2477.0 L569.7,2476.7 L570.7,2477.7 L571.7,2480.0 L574.8,2489.9 L575.8,2492.4 L576.8,2493.7 L577.8,2493.4 L578.8,2491.4 L579.9,2487.8 L580.9,2482.5 L585.9,2447.2 L588.0,2435.7 L589.0,2431.2 L590.0,2427.7 L591.0,2425.2 L592.0,2423.8 L593.1,2423.3 L594.1,2423.9 L595.1,2425.7 L596.1,2428.7 L597.1,2433.1 L598.1,2439.2 L600.2,2455.0 L603.2,2484.3 L614.4,2606.0 L619.5,2657.6 L631.6,2770.1 L638.7,2832.6 L641.8,2862.1 L643.8,2878.9 L646.9,2900.6 L649.9,2920.1 L653.0,2937.8 L661.1,2979.2 L665.1,3001.2 L674.3,3057.8 L676.3,3069.2 L678.3,3079.1 L680.4,3087.3 L682.4,3094.4 L684.4,3100.6 L686.5,3105.7 L689.5,3111.7 L692.6,3116.8 L694.6,3119.4 L695.6,3120.2 L697.6,3121.3 L701.7,3122.5 L707.8,3123.6 L714.9,3124.5 L725.0,3125.3 L734.2,3125.8 L746.4,3126.2 L771.7,3126.6 L801.2,3125.5 L936.2,3124.7 L1007.3,3123.9 L1120.0,3122.3 L1285.5,3120.6 L1382.9,3119.9 L1404.2,3119.3 L1430.6,3117.9 L1443.8,3116.8 L1459.1,3115.2 L1480.4,3112.3 L1493.6,3110.1 L1509.8,3106.8 L1538.3,3100.4 L1561.6,3094.6 L1587.0,3087.8 L1608.3,3081.6 L1625.6,3076.2 L1639.8,3071.1 L1656.0,3064.7 L1685.5,3052.2 L1706.8,3042.8 L1725.1,3034.4 L1740.3,3027.0 L1798.2,2997.7 L1808.3,2993.1 L1818.5,2988.8 L1828.6,2985.1 L1838.8,2982.1 L1845.9,2980.3 L1854.0,2979.0 L1870.2,2977.7 L1880.4,2977.5 L1889.5,2978.1 L1904.8,2980.1 L1908.8,2981.0 L1912.9,2982.0 L1919.0,2984.0 L1931.2,2988.3 L1941.3,2992.2 L1957.6,2999.1 L1977.9,3008.5 L1999.2,3018.0 L2011.4,3022.8 L2025.6,3027.9 L2045.9,3034.2 L2065.2,3039.3 L2076.3,3041.9 L2089.5,3044.7 L2102.7,3047.2 L2110.9,3048.6" stroke="#0000ff" stroke-width="8.9"/>
</g>
<text x="293.0" y="3143.7" font-size="57" text-anchor="end" font-weight="normal" fill="#000" font-family='"Liberation Sans", Arial, Helvetica, sans-serif' >0.00</text>
<text x="293.0" y="2895.2" font-size="57" text-anchor="end" font-weight="normal" fill="#000" font-family='"Liberation Sans", Arial, Helvetica, sans-serif' >0.05</text>
<text x="293.0" y="2646.8" font-size="57" text-anchor="end" font-weight="normal" fill="#000" font-family='"Liberation Sans", Arial, Helvetica, sans-serif' >0.10</text>
<text x="293.0" y="2398.3" font-size="57" text-anchor="end" font-weight="normal" fill="#000" font-family='"Liberation Sans", Arial, Helvetica, sans-serif' >0.15</text>
<text x="293.0" y="2149.8" font-size="57" text-anchor="end" font-weight="normal" fill="#000" font-family='"Liberation Sans", Arial, Helvetica, sans-serif' >0.20</text>
<text x="293.0" y="1901.3" font-size="57" text-anchor="end" font-weight="normal" fill="#000" font-family='"Liberation Sans", Arial, Helvetica, sans-serif' >0.25</text>
<text x="669.2" y="3251.6" font-size="57" text-anchor="middle" font-weight="normal" fill="#000" font-family='"Liberation Sans", Arial, Helvetica, sans-serif' >200</text>
<text x="1075.3" y="3251.6" font-size="57" text-anchor="middle" font-weight="normal" fill="#000" font-family='"Liberation Sans", Arial, Helvetica, sans-serif' >400</text>
<text x="1481.4" y="3251.6" font-size="57" text-anchor="middle" font-weight="normal" fill="#000" font-family='"Liberation Sans", Arial, Helvetica, sans-serif' >600</text>
<text x="1887.5" y="3251.6" font-size="57" text-anchor="middle" font-weight="normal" fill="#000" font-family='"Liberation Sans", Arial, Helvetica, sans-serif' >800</text>
<text x="1226.6" y="3341.8" font-size="70.5" text-anchor="middle" font-weight="normal" fill="#000" font-family='"Liberation Sans", Arial, Helvetica, sans-serif' >Temperature (°C)</text>
<text transform="translate(96.1,2505.9) rotate(-90) scale(0.952,1)" font-size="72.5" text-anchor="middle" font-family='"Liberation Sans", Arial, Helvetica, sans-serif' fill="#000">H<tspan dy="27">2</tspan><tspan dy="-27"> Consumption mmol/g</tspan></text>
<text x="351.5" y="1825.7" font-size="68" text-anchor="start" font-weight="normal" fill="#000" font-family='"Liberation Sans", Arial, Helvetica, sans-serif' >(c)</text>
<rect x="783.1" y="1759.5" width="1289.3" height="1038.8" fill="#fff" stroke="#000" stroke-width="4.9" stroke-linejoin="round"/>
<path d="M844.6,2798.3V2778.1M1151.5,2798.3V2778.1M1458.5,2798.3V2778.1M1765.4,2798.3V2778.1M998.1,2798.3V2788.1M1305.0,2798.3V2788.1M1612.0,2798.3V2788.1M1918.9,2798.3V2788.1M783.1,2762.5H803.3M783.1,2583.4H803.3M783.1,2404.3H803.3M783.1,2225.2H803.3M783.1,2046.1H803.3M783.1,1867.0H803.3M783.1,2672.9H793.3M783.1,2493.8H793.3M783.1,2314.7H793.3M783.1,2135.6H793.3M783.1,1956.5H793.3M783.1,1777.4H793.3" fill="none" stroke="#000" stroke-width="4.6" stroke-linecap="round"/>
<clipPath id="clipci"><rect x="783.1" y="1759.5" width="1289.3" height="1038.8"/></clipPath>
<g clip-path="url(#clipci)" fill="none" stroke-width="8.6" stroke-linejoin="round" stroke-linecap="butt">
<path d="M783.2,2764.5 L870.4,2764.1 L988.2,2762.9 L1043.5,2762.1 L1085.2,2760.9 L1097.5,2760.2 L1112.3,2759.1 L1142.9,2756.3 L1158.9,2754.6 L1171.2,2752.9 L1182.2,2751.1 L1192.1,2749.0 L1200.7,2746.9 L1208.0,2744.6 L1215.4,2741.9 L1221.5,2739.1 L1227.7,2735.6 L1233.8,2731.4 L1238.7,2727.5 L1243.6,2722.7 L1247.3,2718.6 L1251.0,2713.8 L1255.9,2706.7 L1260.8,2698.7 L1264.5,2692.2 L1274.3,2673.5 L1291.5,2638.5 L1296.4,2629.7 L1302.6,2620.6 L1308.7,2612.8 L1314.8,2606.1 L1317.3,2603.9 L1319.7,2602.0 L1324.7,2599.2 L1330.8,2596.9 L1336.9,2595.4 L1346.8,2593.9 L1356.6,2593.0 L1375.0,2592.8 L1397.1,2591.9 L1409.4,2591.0 L1416.7,2590.0 L1422.9,2588.5 L1427.8,2586.7 L1432.7,2584.0 L1436.4,2581.3 L1440.1,2578.0 L1442.5,2575.3 L1447.4,2568.8 L1456.0,2555.1 L1462.2,2544.0 L1467.1,2533.7 L1472.0,2521.6 L1476.9,2507.7 L1481.8,2492.0 L1485.5,2479.1 L1489.2,2465.2 L1495.3,2439.3 L1523.6,2298.1 L1528.5,2274.3 L1532.2,2257.7 L1535.8,2243.3 L1542.0,2221.8 L1549.3,2198.1 L1555.5,2179.3 L1560.4,2166.5 L1565.3,2155.5 L1571.4,2143.1 L1575.1,2136.4 L1577.6,2132.4 L1580.0,2129.0 L1582.5,2126.1 L1585.0,2123.6 L1587.4,2121.7 L1589.9,2120.1 L1592.3,2118.9 L1594.8,2118.1 L1597.2,2117.7 L1599.7,2117.9 L1600.9,2118.2 L1602.1,2118.6 L1604.6,2120.1 L1608.3,2123.2 L1614.4,2129.5 L1618.1,2133.9 L1621.8,2139.1 L1625.5,2145.3 L1630.4,2154.9 L1635.3,2165.4 L1642.7,2182.4 L1683.2,2279.9 L1690.5,2298.8 L1704.1,2336.6 L1707.7,2348.3 L1711.4,2361.0 L1720.0,2392.3 L1727.4,2421.9 L1733.5,2449.2 L1756.8,2564.3 L1759.3,2579.7 L1761.8,2598.9 L1764.2,2615.1 L1766.7,2627.0 L1769.1,2637.5 L1772.8,2652.0 L1776.5,2665.2 L1778.9,2673.2 L1781.4,2680.2 L1783.9,2686.2 L1787.5,2693.9 L1791.2,2700.3 L1794.9,2705.8 L1799.8,2711.9 L1806.0,2718.0 L1809.6,2721.1 L1813.3,2723.9 L1820.7,2728.7 L1830.5,2733.7 L1839.1,2737.3 L1842.8,2738.5 L1847.7,2739.9 L1857.5,2741.9 L1869.8,2743.9 L1884.5,2745.7 L1900.5,2747.3 L1917.7,2748.5 L2012.2,2753.3 L2047.8,2754.7 L2072.4,2755.4" stroke="#000000" stroke-width="8.8"/>
<path d="M783.2,2760.8 L823.7,2760.3 L870.4,2759.3 L910.9,2758.0 L950.2,2756.2 L972.3,2754.8 L987.0,2753.5 L1000.5,2751.7 L1021.4,2748.2 L1057.0,2741.2 L1082.8,2736.5 L1097.5,2733.5 L1107.3,2731.1 L1117.2,2728.5 L1125.8,2725.9 L1133.1,2723.4 L1141.7,2720.0 L1150.3,2716.1 L1158.9,2711.7 L1167.5,2706.7 L1176.1,2701.0 L1183.5,2695.5 L1189.6,2690.3 L1194.5,2685.6 L1200.7,2678.5 L1206.8,2670.1 L1212.9,2660.3 L1217.8,2651.3 L1222.8,2640.8 L1227.7,2628.6 L1232.6,2614.6 L1236.3,2602.2 L1239.9,2588.1 L1242.4,2577.5 L1247.3,2554.4 L1253.4,2524.0 L1263.3,2469.9 L1270.6,2432.3 L1278.0,2387.5 L1280.5,2374.1 L1282.9,2362.6 L1285.4,2352.4 L1287.8,2343.4 L1292.7,2327.7 L1295.2,2320.7 L1297.6,2314.3 L1300.1,2309.1 L1302.6,2305.2 L1303.8,2303.7 L1306.2,2301.8 L1307.5,2301.3 L1308.7,2301.0 L1309.9,2301.0 L1311.2,2301.2 L1312.4,2301.8 L1313.6,2302.6 L1314.8,2303.8 L1316.1,2305.4 L1317.3,2307.6 L1318.5,2310.3 L1321.0,2317.5 L1323.4,2326.9 L1333.3,2373.3 L1338.2,2393.8 L1341.8,2407.6 L1345.5,2420.0 L1349.2,2431.0 L1352.9,2440.0 L1355.4,2444.8 L1356.6,2446.8 L1359.0,2450.1 L1360.3,2451.3 L1362.7,2453.1 L1363.9,2453.7 L1366.4,2454.4 L1367.6,2454.5 L1370.1,2454.1 L1372.5,2453.0 L1373.8,2452.2 L1376.2,2450.1 L1377.5,2448.7 L1379.9,2445.2 L1381.1,2443.0 L1383.6,2437.6 L1386.0,2430.5 L1388.5,2421.2 L1391.0,2409.2 L1393.4,2393.5 L1398.3,2354.4 L1408.2,2273.2 L1416.7,2207.2 L1419.2,2185.9 L1424.1,2139.7 L1426.6,2119.1 L1427.8,2110.3 L1430.3,2096.4 L1431.5,2091.2 L1432.7,2086.9 L1433.9,2083.5 L1435.2,2080.8 L1436.4,2078.7 L1437.6,2077.2 L1438.8,2076.1 L1440.1,2075.4 L1441.3,2075.0 L1442.5,2074.8 L1443.8,2074.9 L1446.2,2075.7 L1452.4,2079.1 L1456.0,2080.3 L1459.7,2080.4 L1467.1,2079.1 L1470.8,2078.9 L1474.5,2079.4 L1476.9,2080.5 L1478.1,2081.2 L1480.6,2083.2 L1483.0,2085.9 L1486.7,2091.4 L1489.2,2096.1 L1491.6,2101.7 L1495.3,2111.9 L1497.8,2119.6 L1501.5,2132.4 L1506.4,2151.5 L1517.4,2200.5 L1522.3,2221.5 L1524.8,2233.0 L1528.5,2253.5 L1539.5,2322.9 L1545.7,2360.2 L1551.8,2395.8 L1556.7,2422.4 L1561.6,2446.7 L1565.3,2463.5 L1570.2,2484.3 L1577.6,2514.1 L1586.2,2550.5 L1591.1,2568.5 L1596.0,2584.3 L1603.4,2605.3 L1607.1,2614.7 L1609.5,2620.2 L1614.4,2629.7 L1619.3,2637.5 L1623.0,2642.6 L1629.2,2650.6 L1634.1,2656.7 L1637.7,2660.9 L1641.4,2664.7 L1645.1,2668.2 L1673.4,2693.6 L1685.6,2704.3 L1699.1,2716.6 L1705.3,2721.8 L1710.2,2725.5 L1715.1,2728.8 L1720.0,2731.7 L1726.2,2734.9 L1732.3,2737.6 L1739.7,2740.6 L1745.8,2742.7 L1751.9,2744.5 L1758.1,2746.0 L1770.4,2748.3 L1802.3,2753.2 L1825.6,2755.6 L1842.8,2757.9 L1850.2,2758.5 L1858.8,2759.0 L1884.5,2759.5 L1917.7,2759.7 L1971.7,2759.0 L2072.4,2758.5" stroke="#ff0000" stroke-width="8.7"/>
<path d="M783.2,2764.0 L829.9,2763.8 L879.0,2763.4 L930.5,2762.6 L983.3,2761.5 L1009.1,2760.4 L1063.1,2757.3 L1085.2,2755.8 L1104.9,2753.9 L1144.2,2749.2 L1155.2,2747.6 L1163.8,2746.0 L1170.0,2744.6 L1177.3,2742.6 L1184.7,2740.4 L1192.1,2737.9 L1198.2,2735.5 L1203.1,2733.3 L1208.0,2730.7 L1211.7,2728.5 L1216.6,2724.9 L1220.3,2721.6 L1224.0,2717.9 L1227.7,2713.5 L1232.6,2707.0 L1236.3,2701.5 L1239.9,2695.6 L1243.6,2688.9 L1247.3,2681.2 L1251.0,2672.2 L1269.4,2623.9 L1282.9,2586.3 L1289.1,2570.9 L1295.2,2556.8 L1300.1,2546.3 L1303.8,2538.9 L1307.5,2532.1 L1311.2,2525.9 L1314.8,2520.1 L1318.5,2515.0 L1322.2,2510.4 L1325.9,2506.5 L1328.3,2504.5 L1330.8,2503.1 L1333.3,2502.2 L1335.7,2501.9 L1338.2,2502.1 L1340.6,2503.2 L1343.1,2505.1 L1344.3,2506.5 L1346.8,2510.4 L1349.2,2515.6 L1357.8,2537.6 L1361.5,2545.6 L1365.2,2552.4 L1367.6,2556.4 L1370.1,2559.9 L1373.8,2563.8 L1376.2,2565.6 L1378.7,2566.8 L1381.1,2567.4 L1383.6,2567.2 L1386.0,2566.3 L1388.5,2564.6 L1391.0,2562.1 L1392.2,2560.4 L1394.6,2555.9 L1395.9,2553.1 L1398.3,2546.1 L1402.0,2533.5 L1405.7,2518.7 L1410.6,2496.8 L1425.3,2427.1 L1430.3,2401.9 L1437.6,2360.7 L1441.3,2342.5 L1445.0,2326.2 L1447.4,2316.5 L1449.9,2308.1 L1452.4,2301.9 L1454.8,2297.5 L1457.3,2294.8 L1458.5,2293.9 L1460.9,2292.8 L1462.2,2292.5 L1464.6,2292.4 L1467.1,2293.0 L1468.3,2293.5 L1470.8,2295.0 L1479.4,2302.4 L1483.0,2304.9 L1485.5,2305.8 L1488.0,2306.0 L1490.4,2305.4 L1491.6,2304.7 L1494.1,2302.9 L1495.3,2301.7 L1497.8,2298.7 L1501.5,2292.8 L1511.3,2275.4 L1516.2,2268.0 L1519.9,2263.1 L1523.6,2259.2 L1527.2,2256.5 L1530.9,2254.8 L1534.6,2254.1 L1538.3,2254.6 L1540.8,2255.5 L1543.2,2256.9 L1544.4,2257.8 L1546.9,2260.2 L1549.3,2263.4 L1551.8,2267.5 L1557.9,2279.7 L1562.9,2290.9 L1567.8,2303.0 L1599.7,2386.3 L1605.8,2401.7 L1613.2,2419.3 L1619.3,2433.2 L1651.3,2503.3 L1662.3,2526.6 L1673.4,2549.2 L1675.8,2554.8 L1681.9,2570.0 L1686.9,2579.8 L1693.0,2590.5 L1699.1,2600.6 L1705.3,2610.0 L1712.6,2620.6 L1720.0,2630.2 L1739.7,2653.7 L1749.5,2666.1 L1758.1,2678.0 L1775.3,2704.0 L1782.6,2714.6 L1786.3,2719.5 L1790.0,2724.0 L1796.1,2730.5 L1802.3,2735.9 L1808.4,2740.7 L1813.3,2744.1 L1818.2,2746.9 L1825.6,2750.2 L1837.9,2755.2 L1842.8,2756.5 L1848.9,2757.5 L1860.0,2758.4 L1878.4,2759.2 L1900.5,2759.9 L1931.2,2760.5 L1988.9,2761.2 L2072.4,2761.5" stroke="#0000ff" stroke-width="8.9"/>
</g>
<text transform="translate(760.6,2774.1) scale(0.9300,1)" font-size="43" text-anchor="end" font-weight="normal" fill="#000" font-family='"Liberation Sans", Arial, Helvetica, sans-serif' >0.00</text>
<text transform="translate(760.6,2595.0) scale(0.9300,1)" font-size="43" text-anchor="end" font-weight="normal" fill="#000" font-family='"Liberation Sans", Arial, Helvetica, sans-serif' >0.05</text>
<text transform="translate(760.6,2415.9) scale(0.9300,1)" font-size="43" text-anchor="end" font-weight="normal" fill="#000" font-family='"Liberation Sans", Arial, Helvetica, sans-serif' >0.10</text>
<text transform="translate(760.6,2236.8) scale(0.9300,1)" font-size="43" text-anchor="end" font-weight="normal" fill="#000" font-family='"Liberation Sans", Arial, Helvetica, sans-serif' >0.15</text>
<text transform="translate(760.6,2057.7) scale(0.9300,1)" font-size="43" text-anchor="end" font-weight="normal" fill="#000" font-family='"Liberation Sans", Arial, Helvetica, sans-serif' >0.20</text>
<text transform="translate(760.6,1878.6) scale(0.9300,1)" font-size="43" text-anchor="end" font-weight="normal" fill="#000" font-family='"Liberation Sans", Arial, Helvetica, sans-serif' >0.25</text>
<text transform="translate(844.6,2852.0) scale(0.9300,1)" font-size="43" text-anchor="middle" font-weight="normal" fill="#000" font-family='"Liberation Sans", Arial, Helvetica, sans-serif' >50</text>
<text transform="translate(1151.5,2852.0) scale(0.9300,1)" font-size="43" text-anchor="middle" font-weight="normal" fill="#000" font-family='"Liberation Sans", Arial, Helvetica, sans-serif' >100</text>
<text transform="translate(1458.5,2852.0) scale(0.9300,1)" font-size="43" text-anchor="middle" font-weight="normal" fill="#000" font-family='"Liberation Sans", Arial, Helvetica, sans-serif' >150</text>
<text transform="translate(1765.4,2852.0) scale(0.9300,1)" font-size="43" text-anchor="middle" font-weight="normal" fill="#000" font-family='"Liberation Sans", Arial, Helvetica, sans-serif' >200</text>
<text transform="translate(2072.4,2852.0) scale(0.9300,1)" font-size="43" text-anchor="middle" font-weight="normal" fill="#000" font-family='"Liberation Sans", Arial, Helvetica, sans-serif' >250</text>
<path d="M1735.8,1820.2H1861.5" stroke="#000000" stroke-width="9.6" stroke-linecap="round"/>
<text transform="translate(1892.5,1839.8) scale(0.9570,1)" font-size="58.5" text-anchor="start" font-weight="bold" fill="#000" font-family='"Liberation Sans", Arial, Helvetica, sans-serif' >0.1M</text>
<path d="M1735.8,1891.2H1861.5" stroke="#ff0000" stroke-width="8.6" stroke-linecap="round"/>
<text transform="translate(1892.5,1910.2) scale(0.9570,1)" font-size="58.5" text-anchor="start" font-weight="bold" fill="#000" font-family='"Liberation Sans", Arial, Helvetica, sans-serif' >1M</text>
<path d="M1735.8,1961.2H1861.5" stroke="#0000ff" stroke-width="9.0" stroke-linecap="round"/>
<text transform="translate(1892.5,1980.5) scale(0.9570,1)" font-size="58.5" text-anchor="start" font-weight="bold" fill="#000" font-family='"Liberation Sans", Arial, Helvetica, sans-serif' >5M</text>
<text x="1297.5" y="2286.7" font-size="51" text-anchor="start" font-weight="bold" fill="#ff0000" font-family='"Liberation Serif", "Times New Roman", Times, serif' >α</text>
<text x="1445.9" y="2056.1" font-size="47" text-anchor="start" font-weight="bold" fill="#ff0000" font-family='"Liberation Serif", "Times New Roman", Times, serif' >β</text>
<text x="1316.0" y="2491.7" font-size="51" text-anchor="start" font-weight="bold" fill="#0000ff" font-family='"Liberation Serif", "Times New Roman", Times, serif' >α</text>
<text x="1453.4" y="2269.9" font-size="47" text-anchor="start" font-weight="bold" fill="#0000ff" font-family='"Liberation Serif", "Times New Roman", Times, serif' >β</text>
<text x="1560.5" y="2259.9" font-size="47" text-anchor="start" font-weight="bold" fill="#0000ff" font-family='"Liberation Serif", "Times New Roman", Times, serif' >γ</text>
<text x="1316.0" y="2590.5" font-size="51" text-anchor="start" font-weight="bold" fill="#000000" font-family='"Liberation Serif", "Times New Roman", Times, serif' >α</text>
<text x="1582.2" y="2098.6" font-size="47" text-anchor="start" font-weight="bold" fill="#000000" font-family='"Liberation Serif", "Times New Roman", Times, serif' >β</text>
<text x="1695.5" y="2297.4" font-size="47" text-anchor="start" font-weight="bold" fill="#000000" font-family='"Liberation Serif", "Times New Roman", Times, serif' >γ</text>
</svg></body></html>
